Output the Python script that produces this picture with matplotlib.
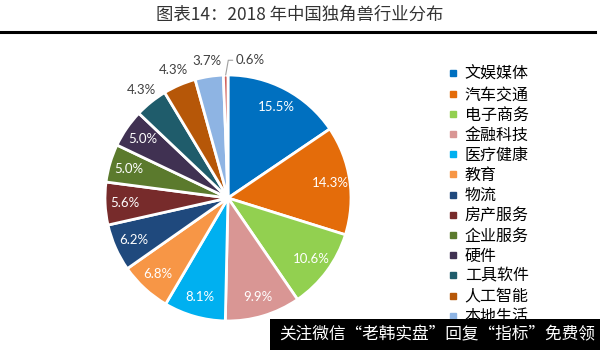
import matplotlib
matplotlib.use("Agg")
import matplotlib.pyplot as plt
from matplotlib.patches import Rectangle
from matplotlib.lines import Line2D
import numpy as np

plt.rcParams['font.family'] = ['Noto Sans CJK SC', 'DejaVu Sans']

# 2018 unicorn companies by industry (%)
industries = ["文娱媒体", "汽车交通", "电子商务", "金融科技", "医疗健康", "教育", "物流",
              "房产服务", "企业服务", "硬件", "工具软件", "人工智能", "本地生活", "其他"]
shares = [15.5, 14.3, 10.6, 9.9, 8.1, 6.8, 6.2, 5.6, 5.0, 5.0, 4.3, 4.3, 3.7, 0.6]
colors = ["#0070C0", "#E46C0A", "#92D050", "#D99694", "#00B0F0", "#F79646", "#1F497D",
          "#772B2B", "#5B7A2D", "#403152", "#1F5C6B", "#B65708", "#8EB4E3", "#D0605C"]
title = "图表14：2018 年中国独角兽行业分布"

W, H = 600, 350
fig = plt.figure(figsize=(W / 100, H / 100), dpi=100)
fig.patch.set_facecolor("white")

# pie area: centre (228, 198) px, radius 123 px
cx, cy, r = 228, 198, 123
ax = fig.add_axes([(cx - r) / W, (H - cy - r) / H, 2 * r / W, 2 * r / H])
wedges, _ = ax.pie(shares, colors=colors, startangle=90, counterclock=False,
                   wedgeprops=dict(edgecolor="white", linewidth=2))
ax.set_xlim(-1, 1)
ax.set_ylim(-1, 1)
ax.set_aspect("equal")
ax.axis("off")

for w, v in zip(wedges, shares):
    mid = np.deg2rad((w.theta1 + w.theta2) / 2)
    txt = f"{v:.1f}%"
    if v >= 5.0:
        d = 0.84
        ax.text(d * np.cos(mid), d * np.sin(mid), txt, ha="center", va="center",
                color="white", fontsize=9.5, family=["Lato", "DejaVu Sans"], clip_on=False)
    elif v >= 1.0:
        d = 1.13
        ax.text(d * np.cos(mid), d * np.sin(mid), txt, ha="center", va="center",
                color="#404040", fontsize=9.5, family=["Lato", "DejaVu Sans"], clip_on=False)
    else:
        x0, y0 = np.cos(mid), np.sin(mid)
        ax.annotate(txt, xy=(x0, y0), xytext=(x0 + 0.08, y0 + 0.12),
                    ha="left", va="center", color="#404040", fontsize=9.5,
                    family=["Lato", "DejaVu Sans"], annotation_clip=False,
                    arrowprops=dict(arrowstyle="-", color="#A0A0A0", lw=0.8,
                                    connectionstyle="angle,angleA=0,angleB=80,rad=0",
                                    shrinkA=0, shrinkB=0))

# title and rule beneath it
fig.text(0.5, 1 - 15 / H, title, ha="center", va="center", fontsize=12.5, color="#333333")
fig.add_artist(Line2D([0, 595 / W], [1 - 32 / H, 1 - 32 / H], color="black", lw=2.2))

# legend (the final entry falls below the visible area)
n_shown = 13
handles = [Line2D([], [], marker="s", ls="none", markersize=4.5, color=c) for c in colors]
fig.legend(handles[:n_shown], industries[:n_shown], loc="upper left",
           bbox_to_anchor=(448 / W, 1 - 66 / H),
           frameon=False, fontsize=11.5, handlelength=0.6, handletextpad=0.45,
           labelspacing=0.2, borderpad=0, borderaxespad=0)

# banner in the lower right corner
fig.add_artist(Rectangle((270 / W, 0), 330 / W, 31 / H, transform=fig.transFigure,
                         facecolor="black", edgecolor="none", zorder=10))
fig.text(279 / W, 15 / H, "关注微信“老韩实盘”回复“指标”免费领", ha="left", va="center",
         color="white", fontsize=12, zorder=11)

fig.savefig("out.png", dpi=100, facecolor="white")
